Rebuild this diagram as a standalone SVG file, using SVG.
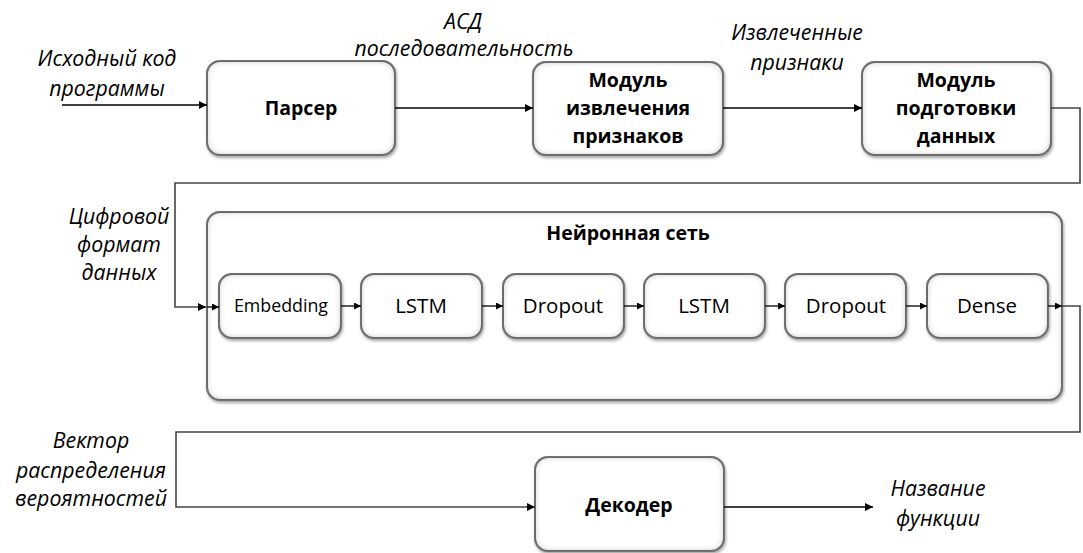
<svg xmlns="http://www.w3.org/2000/svg" width="1083" height="553" viewBox="0 0 1083 553">
<defs>
<filter id="inset" x="-10%" y="-10%" width="120%" height="130%">
<feFlood flood-color="#9a9a9a" result="f"/>
<feComposite in="f" in2="SourceAlpha" operator="out" result="o"/>
<feGaussianBlur in="o" stdDeviation="3.5" result="b"/>
<feComposite in="b" in2="SourceAlpha" operator="in" result="i"/>
<feGaussianBlur in="SourceAlpha" stdDeviation="1.5" result="sb"/>
<feOffset in="sb" dx="1" dy="2" result="so"/>
<feFlood flood-color="#000" flood-opacity="0.35"/>
<feComposite in2="so" operator="in" result="shadow"/>
<feMerge><feMergeNode in="shadow"/><feMergeNode in="SourceGraphic"/><feMergeNode in="i"/></feMerge>
</filter>
<marker id="arr" viewBox="0 0 10 10" refX="10" refY="5" markerWidth="11" markerHeight="8" markerUnits="userSpaceOnUse" orient="auto">
<path d="M0,0 L10,5 L0,10 z" fill="#000"/>
</marker>
<marker id="arrs" viewBox="0 0 10 10" refX="10" refY="5" markerWidth="8" markerHeight="7" markerUnits="userSpaceOnUse" orient="auto">
<path d="M0,0 L10,5 L0,10 z" fill="#000"/>
</marker>
</defs>
<style>
.box{fill:#fff;stroke:#3a3a3a;stroke-width:2;filter:url(#inset)}
.bt{font-family:"Open Sans","DejaVu Sans",sans-serif;font-weight:bold;font-size:19.5px;fill:#000;text-anchor:middle}
.st{font-family:"Open Sans","DejaVu Sans",sans-serif;font-size:20.5px;fill:#000;text-anchor:middle}
.lb{font-family:"Open Sans","Liberation Sans",sans-serif;font-style:italic;font-size:21.3px;fill:#000;text-anchor:middle}
.ln{fill:none;stroke:#000;stroke-width:1.3}
.fb{fill:none;stroke:#444;stroke-width:1.6}
</style>
<rect width="1083" height="553" fill="#fff"/>

<g id="parser">
<rect class="box" x="207" y="61" width="188" height="94" rx="13"/>
<text class="bt" x="301" y="115">Парсер</text>
</g>
<g id="extract">
<rect class="box" x="533" y="62" width="190" height="93" rx="13"/>
<text class="bt" x="628" y="87">Модуль</text>
<text class="bt" x="628" y="115">извлечения</text>
<text class="bt" x="628" y="143">признаков</text>
</g>
<g id="prep">
<rect class="box" x="862" y="62" width="189" height="93" rx="13"/>
<text class="bt" x="956" y="87">Модуль</text>
<text class="bt" x="956" y="115">подготовки</text>
<text class="bt" x="956" y="143">данных</text>
</g>

<g id="neural">
<rect class="box" x="207" y="212" width="855" height="188" rx="13"/>
<text class="bt" x="628" y="240" style="font-size:19.5px">Нейронная сеть</text>
</g>
<g id="embedding">
<rect class="box" x="219" y="274" width="122" height="64" rx="13"/>
<text class="st" x="281" y="312" style="font-size:17.8px">Embedding</text>
</g>
<g id="lstm1">
<rect class="box" x="361" y="274" width="121" height="64" rx="13"/>
<text class="st" x="421" y="313">LSTM</text>
</g>
<g id="dropout1">
<rect class="box" x="503" y="274" width="121" height="64" rx="13"/>
<text class="st" x="563" y="313">Dropout</text>
</g>
<g id="lstm2">
<rect class="box" x="644" y="274" width="121" height="64" rx="13"/>
<text class="st" x="704" y="313">LSTM</text>
</g>
<g id="dropout2">
<rect class="box" x="785" y="274" width="121" height="64" rx="13"/>
<text class="st" x="846" y="313">Dropout</text>
</g>
<g id="dense">
<rect class="box" x="927" y="274" width="121" height="64" rx="13"/>
<text class="st" x="987" y="313">Dense</text>
</g>

<g id="decoder">
<rect class="box" x="535" y="457" width="189" height="94" rx="13"/>
<text class="bt" x="629" y="512">Декодер</text>
</g>

<g id="connectors">
<line class="ln" x1="62" y1="105" x2="207" y2="105" marker-end="url(#arr)"/>
<line class="ln" x1="395" y1="108" x2="533" y2="108" marker-end="url(#arr)"/>
<line class="ln" x1="723" y1="108" x2="862" y2="108" marker-end="url(#arr)"/>
<polyline class="fb" points="1051,108 1080,108 1080,183 175,183 175,307 206,307" marker-end="url(#arr)"/>
<line class="ln" x1="207" y1="307" x2="219" y2="307" marker-end="url(#arrs)"/>
<line class="ln" x1="341" y1="306" x2="361" y2="306" marker-end="url(#arrs)"/>
<line class="ln" x1="482" y1="306" x2="503" y2="306" marker-end="url(#arrs)"/>
<line class="ln" x1="624" y1="306" x2="644" y2="306" marker-end="url(#arrs)"/>
<line class="ln" x1="765" y1="306" x2="785" y2="306" marker-end="url(#arrs)"/>
<line class="ln" x1="906" y1="306" x2="927" y2="306" marker-end="url(#arrs)"/>
<line class="ln" x1="1048" y1="306" x2="1062" y2="306" marker-end="url(#arrs)"/>
<polyline class="fb" points="1062,306 1080,306 1080,432 176,432 176,507 535,507" marker-end="url(#arr)"/>
<line class="ln" x1="724" y1="507" x2="873" y2="507" marker-end="url(#arr)"/>
</g>

<g id="labels">
<text class="lb" x="107" y="66">Исходный код</text>
<text class="lb" x="107" y="96">программы</text>
<text class="lb" x="463" y="29">АСД</text>
<text class="lb" x="464" y="56">последовательность</text>
<text class="lb" x="797" y="40">Извлеченные</text>
<text class="lb" x="797" y="70">признаки</text>
<text class="lb" x="119" y="224">Цифровой</text>
<text class="lb" x="119" y="252">формат</text>
<text class="lb" x="119" y="280">данных</text>
<text class="lb" x="91" y="448">Вектор</text>
<text class="lb" x="91" y="478">распределения</text>
<text class="lb" x="91" y="506">вероятностей</text>
<text class="lb" x="938" y="496">Название</text>
<text class="lb" x="938" y="526">функции</text>
</g>
</svg>
